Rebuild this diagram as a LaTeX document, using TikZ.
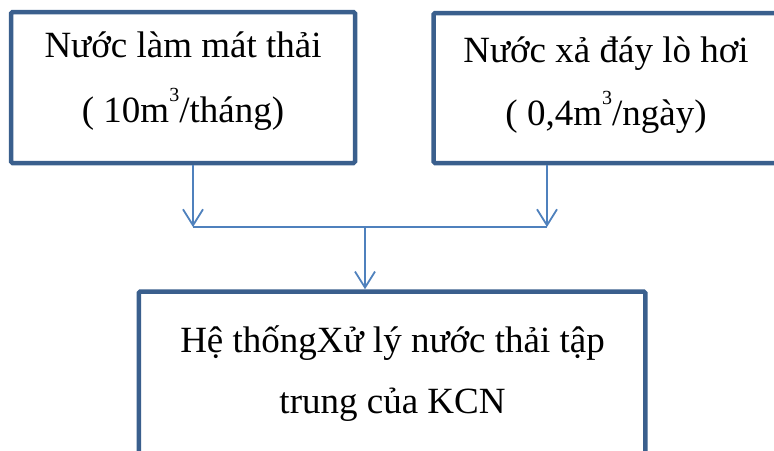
\documentclass[tikz,border=0pt]{standalone}
\usepackage{fontspec}
\setmainfont{Liberation Serif}
\usetikzlibrary{arrows.meta}

\definecolor{boxblue}{HTML}{3A5F8D}
\definecolor{linkblue}{HTML}{4F81BD}

% small raised exponent
\newcommand{\cubeexp}{\raisebox{21pt}{\fontsize{20}{20}\selectfont 3}}

\tikzset{
  flowbox/.style={draw=boxblue, line width=4.5pt, rounded corners=1.5pt,
    fill=white, inner sep=0pt},
  boxtext/.style={anchor=base, inner sep=0pt, font=\fontsize{37}{40}\selectfont},
  link/.style={draw=linkblue, line width=1.8pt},
  arrowlink/.style={link, -{Straight Barb[length=16pt,width=20pt,line width=1.8pt]}}
}

\begin{document}
\begin{tikzpicture}[x=1pt,y=-1pt]
  \useasboundingbox (0,0) rectangle (774,450);
  \clip (0,0) rectangle (774,450);

  % source boxes and the treatment box
  \node[flowbox, minimum width=344pt, minimum height=151pt] (lbox) at (183,87.5) {};
  \node[flowbox, minimum width=346pt, minimum height=150pt] (rbox) at (606.5,88) {};
  \node[flowbox, minimum width=506.5pt, minimum height=200pt] (tbox) at (392,391.5) {};

  % labels
  \node[boxtext] (l1) at (183,57) {Nước làm mát thải};
  \node[boxtext] (l2) at (183,122) {( 10m\cubeexp/tháng)};
  \node[boxtext] (r1) at (606,62) {Nước xả đáy lò hơi};
  \node[boxtext] (r2) at (606,125) {( 0,4m\cubeexp/ngày)};
  \node[boxtext] (t1) at (392.5,352) {Hệ thốngXử lý nước thải tập};
  \node[boxtext] (t2) at (392.5,413) {trung của KCN};

  % junction points of the collecting line
  \coordinate (jl) at (193,227);
  \coordinate (jr) at (547,227);
  \coordinate (jm) at (365,227);

  % connectors
  \draw[arrowlink] (lbox.south -| jl) -- (jl);
  \draw[arrowlink] (rbox.south -| jr) -- (jr);
  \draw[link] (jl) -- (jr);
  \draw[arrowlink] (jm) -- (jm |- tbox.north);
\end{tikzpicture}
\end{document}
